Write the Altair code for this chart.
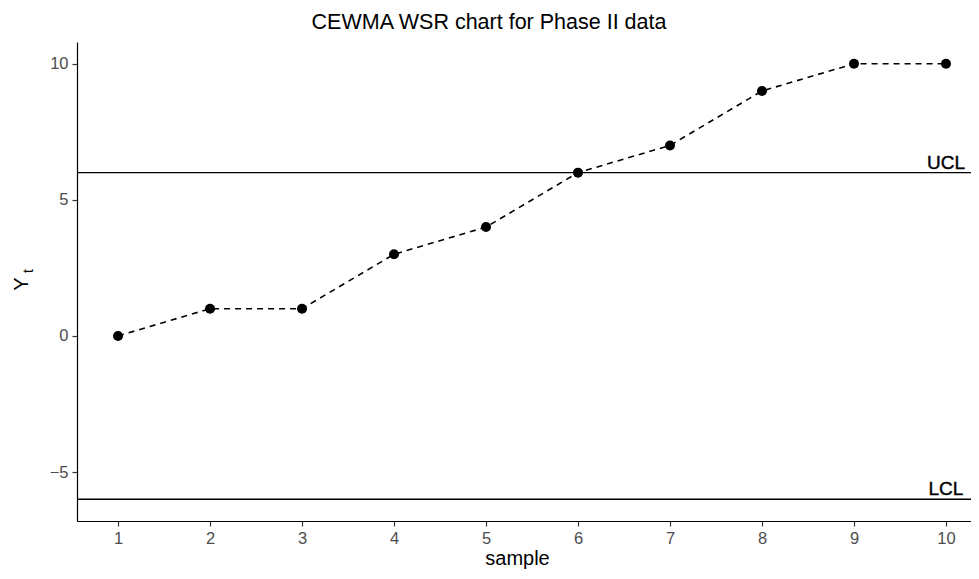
import altair as alt
import pandas as pd

samples = [1, 2, 3, 4, 5, 6, 7, 8, 9, 10]
yt = [0, 1, 1, 3, 4, 6, 7, 9, 10, 10]
limit_names = ["UCL", "LCL"]
limit_values = [6, -6]
limit_at = [10, 10]

df = pd.DataFrame({"sample": samples, "Yt": yt})
lim = pd.DataFrame({"name": limit_names, "value": limit_values, "sample": limit_at})

FONT = "Liberation Sans"
xs = alt.Scale(domain=[0.554, 10.272], nice=False, zero=False)
ys = alt.Scale(domain=[-6.8, 10.8], nice=False, zero=False)

xenc = alt.X("sample:Q", scale=xs,
             axis=alt.Axis(values=samples, title="sample", format="d", grid=False,
                           domainColor="black", domainWidth=1.2, tickColor="#333333",
                           tickWidth=1.2, tickSize=5, labelColor="#4D4D4D", labelFontSize=16.5,
                           labelFont=FONT, titleFont=FONT, titleFontSize=20,
                           titleFontWeight="normal", titleColor="black", titlePadding=2,
                           labelPadding=4, titleX=440))
yaxis = alt.Axis(values=[-5, 0, 5, 10], title=None, grid=False, domainColor="black",
                 domainWidth=1.2, tickColor="#333333", tickWidth=1.2, tickSize=5,
                 labelColor="#4D4D4D", labelFontSize=16.5, labelFont=FONT, labelPadding=4)

line = alt.Chart(df).mark_line(color="black", strokeDash=[6, 5], strokeWidth=1.6).encode(
    x=xenc, y=alt.Y("Yt:Q", scale=ys, axis=yaxis))
pts = alt.Chart(df).mark_point(filled=True, color="black", size=100, opacity=1).encode(
    x=alt.X("sample:Q", scale=xs), y=alt.Y("Yt:Q", scale=ys))
rules = alt.Chart(lim).mark_rule(color="black", strokeWidth=1.4).encode(
    y=alt.Y("value:Q", scale=ys))
labels = alt.Chart(lim).mark_text(font=FONT, fontSize=19, color="black", baseline="alphabetic",
                                  dy=-4, stroke="black", strokeWidth=0.4).encode(
    x=alt.X("sample:Q", scale=xs), y=alt.Y("value:Q", scale=ys), text="name:N")

ytitle_df = pd.DataFrame({"t": ["Y"]})
ytitle = alt.Chart(ytitle_df).mark_text(font=FONT, fontSize=20, angle=270, color="black",
                                        baseline="middle", align="center").encode(
    x=alt.value(-55), y=alt.value(242), text="t:N")
ysub_df = pd.DataFrame({"t": ["t"]})
ysub = alt.Chart(ysub_df).mark_text(font=FONT, fontSize=14, angle=270, color="black",
                                    baseline="middle", align="center").encode(
    x=alt.value(-48), y=alt.value(229), text="t:N")

chart = alt.layer(rules, line, pts, labels, ytitle, ysub).properties(
    width=894, height=479,
    title=alt.TitleParams("CEWMA WSR chart for Phase II data", font=FONT, fontSize=21.5,
                          fontWeight="normal", color="black", anchor="middle", offset=9,
                          dx=-35),
    autosize=alt.AutoSizeParams(type="none"),
    padding={"left": 69, "top": 34, "right": 0, "bottom": 50},
).configure_view(stroke=None)

chart.save("out.html", embed_options={"renderer": "svg", "actions": False})
